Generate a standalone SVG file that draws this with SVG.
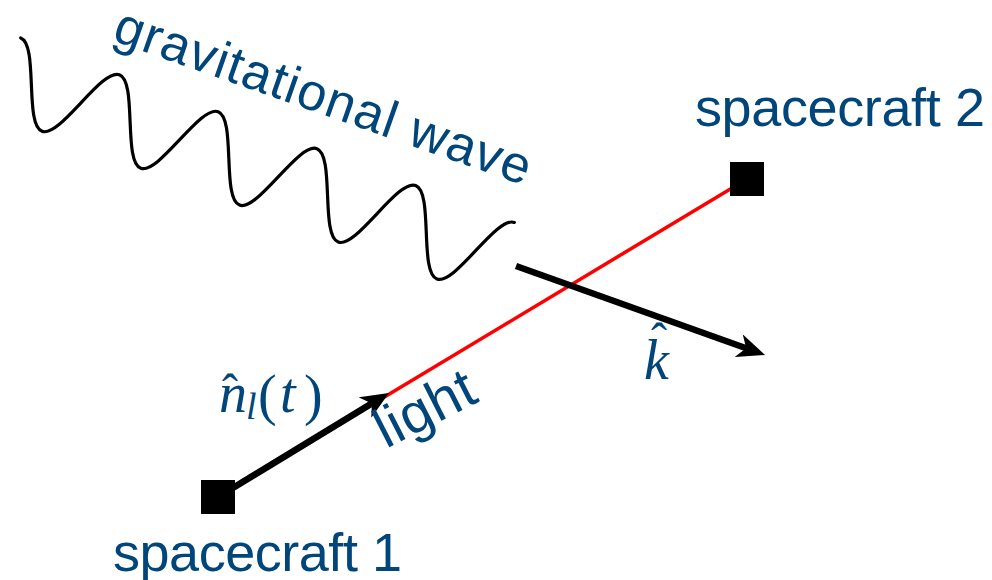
<svg xmlns="http://www.w3.org/2000/svg" width="992" height="580" viewBox="0 0 992 580">
  <style>
    .lbl { font-family: "Liberation Sans", Arial, sans-serif; font-size: 54px; fill: #00467A; }
    .math { font-family: "Liberation Serif", "Times New Roman", serif; fill: #00467A; }
    .it { font-style: italic; }
    .craft { fill: #000; }
    .arrow { stroke: #000; stroke-width: 6.5; fill: none; marker-end: url(#stealth); }
  </style>
  <defs>
    <marker id="stealth" viewBox="0 0 28 24" refX="8" refY="12" markerWidth="28" markerHeight="24" markerUnits="userSpaceOnUse" orient="auto">
      <path d="M28,12 L0,0 L8,12 L0,24 Z" fill="#000"/>
    </marker>
  </defs>

  <g id="wave">
    <path transform="translate(20.7,37.9) rotate(20.5)" fill="none" stroke="#000" stroke-width="3.2" stroke-linecap="round"
      d="M0,0 c9.54,0 17.76,19.51 26.35,40 c8.59,20.49 16.81,40 26.35,40 c9.54,0 17.76,-19.51 26.35,-40 c8.59,-20.49 16.81,-40 26.35,-40
         c9.54,0 17.76,19.51 26.35,40 c8.59,20.49 16.81,40 26.35,40 c9.54,0 17.76,-19.51 26.35,-40 c8.59,-20.49 16.81,-40 26.35,-40
         c9.54,0 17.76,19.51 26.35,40 c8.59,20.49 16.81,40 26.35,40 c9.54,0 17.76,-19.51 26.35,-40 c8.59,-20.49 16.81,-40 26.35,-40
         c9.54,0 17.76,19.51 26.35,40 c8.59,20.49 16.81,40 26.35,40 c9.54,0 17.76,-19.51 26.35,-40 c8.59,-20.49 16.81,-40 26.35,-40
         c9.54,0 17.76,19.51 26.35,40 c8.59,20.49 16.81,40 26.35,40 c9.54,0 17.76,-19.51 26.35,-40 c8.59,-20.49 16.81,-40 26.35,-40"/>
    <text class="lbl" style="font-size:52px" transform="translate(111,40) rotate(19.4)" textLength="438" lengthAdjust="spacing">gravitational wave</text>
  </g>

  <g id="connectors">
    <line id="light-path" x1="218" y1="497" x2="747" y2="179" stroke="#FF0000" stroke-width="3.5"/>
    <line id="n-arrow" class="arrow" x1="218" y1="497" x2="371.9" y2="403.4"/>
    <line id="k-arrow" class="arrow" x1="516" y1="266" x2="746.2" y2="348.3"/>
    <text class="lbl" style="font-size:56px" transform="translate(386,449) rotate(-27)" textLength="106" lengthAdjust="spacing">light</text>
  </g>

  <g id="spacecraft1">
    <rect class="craft" x="201" y="480" width="34" height="34"/>
    <text class="lbl" x="113" y="571" textLength="289" lengthAdjust="spacing">spacecraft 1</text>
  </g>

  <g id="spacecraft2">
    <rect class="craft" x="730" y="162" width="34" height="34"/>
    <text class="lbl" x="695" y="126" textLength="290" lengthAdjust="spacing">spacecraft 2</text>
  </g>

  <g id="n-label">
    <text class="math" font-size="48" x="230" y="408" text-anchor="middle">ˆ</text>
    <text class="math" font-size="56"><tspan class="it" x="219" y="412">n</tspan><tspan class="it" font-size="38" x="246" y="419">l</tspan><tspan x="258" y="414">(</tspan><tspan class="it" x="280" y="412">t</tspan><tspan x="304" y="414">)</tspan></text>
  </g>

  <g id="k-label">
    <text class="math" font-size="48" x="659" y="357" text-anchor="middle">ˆ</text>
    <text class="math it" font-size="56" x="644" y="379">k</text>
  </g>
</svg>
